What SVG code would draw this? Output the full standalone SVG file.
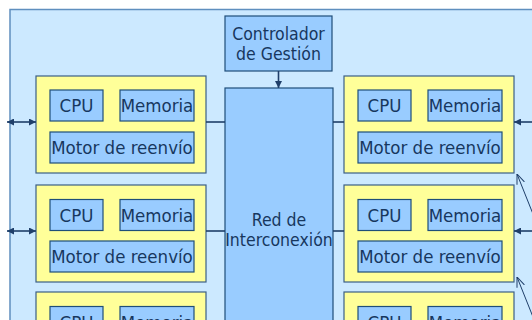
<svg xmlns="http://www.w3.org/2000/svg" width="532" height="320" viewBox="0 0 532 320">
<defs>
<style>
.outer{fill:#cce9ff;stroke:#5f8fbf;stroke-width:1.5}
.card{fill:#ffff99;stroke:#3b5f86;stroke-width:1.2}
.blk{fill:#99ccff;stroke:#1f4e79;stroke-width:1.2}
.t{font-family:"DejaVu Sans Condensed","DejaVu Sans",sans-serif;font-stretch:condensed;fill:#17375e;text-anchor:middle}
.big{font-size:18.5px}
.mid{font-size:17.5px}
.ln{stroke:#1f3f6a;stroke-width:1.6;fill:none}
.thin{stroke:#1f3f6a;stroke-width:1;fill:none}
</style>
<marker id="ah" viewBox="0 0 10 10" refX="10" refY="5" markerWidth="9" markerHeight="7" markerUnits="userSpaceOnUse" orient="auto-start-reverse">
<path d="M0,0 L10,5 L0,10 z" fill="#1f3f6a"/>
</marker>
<marker id="oa" viewBox="0 0 10 10" refX="10" refY="5" markerWidth="10" markerHeight="10" markerUnits="userSpaceOnUse" orient="auto">
<path d="M0,1 L10,5 L0,9" fill="none" stroke="#1f3f6a" stroke-width="1"/>
</marker>
</defs>
<rect x="0" y="0" width="532" height="320" fill="#ffffff"/>
<rect class="outer" x="10" y="9.5" width="540" height="330"/>

<g id="controlador">
<rect class="blk" x="225" y="16" width="107" height="55"/>
<text class="t mid" x="278.5" y="40">Controlador</text>
<text class="t mid" x="278.5" y="60">de Gestión</text>
</g>

<g id="red">
<rect class="blk" x="225" y="88" width="108" height="250"/>
<text class="t mid" x="279" y="226">Red de</text>
<text class="t mid" x="279" y="246">Interconexión</text>
</g>

<g id="tarjeta-izq-1">
<rect class="card" x="36" y="76" width="170" height="97"/>
<rect class="blk" x="50" y="90" width="53" height="31"/>
<text class="t big" x="76.5" y="112">CPU</text>
<rect class="blk" x="120" y="90" width="74" height="31"/>
<text class="t big" x="157" y="112">Memoria</text>
<rect class="blk" x="50" y="132" width="144" height="31"/>
<text class="t big" x="122" y="154">Motor de reenvío</text>
</g>
<g id="tarjeta-izq-2">
<rect class="card" x="36" y="185" width="170" height="97"/>
<rect class="blk" x="50" y="199.5" width="53" height="31"/>
<text class="t big" x="76.5" y="221.5">CPU</text>
<rect class="blk" x="120" y="199.5" width="74" height="31"/>
<text class="t big" x="157" y="221.5">Memoria</text>
<rect class="blk" x="50" y="241" width="144" height="31"/>
<text class="t big" x="122" y="263">Motor de reenvío</text>
</g>
<g id="tarjeta-izq-3">
<rect class="card" x="36" y="292" width="170" height="97"/>
<rect class="blk" x="50" y="306.5" width="53" height="31"/>
<text class="t big" x="76.5" y="328.5">CPU</text>
<rect class="blk" x="120" y="306.5" width="74" height="31"/>
<text class="t big" x="157" y="328.5">Memoria</text>
</g>

<g id="tarjeta-der-1">
<rect class="card" x="344" y="76" width="170" height="97"/>
<rect class="blk" x="358" y="90" width="53" height="31"/>
<text class="t big" x="384.5" y="112">CPU</text>
<rect class="blk" x="428" y="90" width="74" height="31"/>
<text class="t big" x="465" y="112">Memoria</text>
<rect class="blk" x="358" y="132" width="144" height="31"/>
<text class="t big" x="430" y="154">Motor de reenvío</text>
</g>
<g id="tarjeta-der-2">
<rect class="card" x="344" y="185" width="170" height="97"/>
<rect class="blk" x="358" y="199.5" width="53" height="31"/>
<text class="t big" x="384.5" y="221.5">CPU</text>
<rect class="blk" x="428" y="199.5" width="74" height="31"/>
<text class="t big" x="465" y="221.5">Memoria</text>
<rect class="blk" x="358" y="241" width="144" height="31"/>
<text class="t big" x="430" y="263">Motor de reenvío</text>
</g>
<g id="tarjeta-der-3">
<rect class="card" x="344" y="292" width="170" height="97"/>
<rect class="blk" x="358" y="306.5" width="53" height="31"/>
<text class="t big" x="384.5" y="328.5">CPU</text>
<rect class="blk" x="428" y="306.5" width="74" height="31"/>
<text class="t big" x="465" y="328.5">Memoria</text>
</g>

<g id="conectores">
<line class="ln" x1="278.5" y1="71" x2="278.5" y2="88" marker-end="url(#ah)"/>
<line class="ln" x1="7" y1="122" x2="36" y2="122" marker-start="url(#ah)" marker-end="url(#ah)"/>
<line class="ln" x1="7" y1="231" x2="36" y2="231" marker-start="url(#ah)" marker-end="url(#ah)"/>
<line class="ln" x1="206" y1="122" x2="225" y2="122"/>
<line class="ln" x1="206" y1="231" x2="225" y2="231"/>
<line class="ln" x1="333" y1="122" x2="344" y2="122"/>
<line class="ln" x1="333" y1="231" x2="344" y2="231"/>
<line class="ln" x1="514" y1="122" x2="545" y2="122" marker-start="url(#ah)"/>
<line class="ln" x1="514" y1="231" x2="545" y2="231" marker-start="url(#ah)"/>
<line class="thin" x1="533" y1="214" x2="517" y2="174" marker-end="url(#oa)"/>
<line class="thin" x1="533" y1="317" x2="517" y2="277" marker-end="url(#oa)"/>
</g>
</svg>
